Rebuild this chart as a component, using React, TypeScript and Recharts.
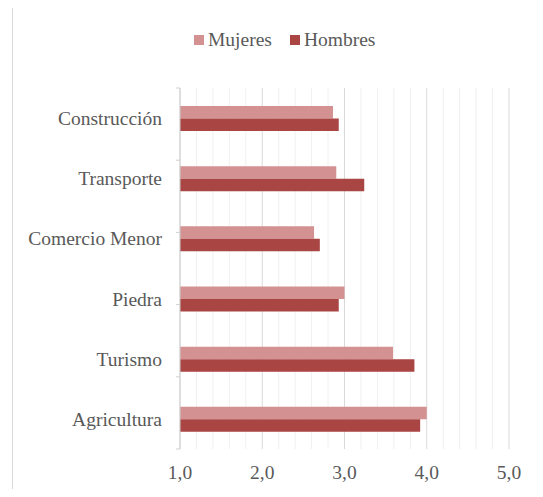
import React from "react";
import { BarChart, Bar, XAxis, YAxis, CartesianGrid, Legend } from "recharts";

const categories = ["Construcción", "Transporte", "Comercio Menor", "Piedra", "Turismo", "Agricultura"];
const mujeres = [2.86, 2.9, 2.63, 3.0, 3.59, 4.0];
const hombres = [2.93, 3.24, 2.7, 2.93, 3.85, 3.92];
const majorTicks = [1, 2, 3, 4, 5];
const minorTicks = [1.2, 1.4, 1.6, 1.8, 2.2, 2.4, 2.6, 2.8, 3.2, 3.4, 3.6, 3.8, 4.2, 4.4, 4.6, 4.8];
const bandTicks = [0, 1, 2, 3, 4, 5, 6];
const seriesNames = ["Mujeres", "Hombres"];
const seriesColors = ["#d39191", "#a94543"];

const data = categories.map((name, i) => ({ name, Mujeres: mujeres[i], Hombres: hombres[i] }));

const FONT = "'Liberation Serif', serif";
const FS = 19.5;
const TEXT = "#595959";

const LegendContent = () => (
  <div style={{ display: "flex", alignItems: "center", fontFamily: FONT, fontSize: FS, color: TEXT, lineHeight: "20px", height: 20 }}>
    {seriesNames.map((n, i) => (
      <div key={n} style={{ display: "flex", alignItems: "center", marginRight: 18 }}>
        <span style={{ display: "inline-block", width: 10, height: 10, background: seriesColors[i], marginRight: 4 }} />
        <span>{n}</span>
      </div>
    ))}
  </div>
);

export default function App() {
  return (
    <div style={{ margin: -8, width: 543, height: 497, position: "relative", overflow: "hidden", background: "#fff" }}>
      <div style={{ position: "absolute", left: 12, top: 5, width: 700, height: 700, border: "1px solid #d9d9d9", boxSizing: "border-box" }} />
      <div style={{ position: "absolute", left: 0, top: 0 }}>
        <BarChart
          width={543}
          height={497}
          data={data}
          layout="vertical"
          margin={{ top: 68, right: 34, bottom: 0, left: 10 }}
          barSize={12.5}
          barGap={0}
        >
          <CartesianGrid
            horizontal={false}
            stroke="#f0f0f0"
            verticalCoordinatesGenerator={(props: any) => {
              const s = props?.xAxis?.scale;
              if (typeof s === "function") return minorTicks.map((t) => s(t));
              const off = props.offset;
              return minorTicks.map((t) => off.left + ((t - 1) / 4) * off.width);
            }}
          />
          <CartesianGrid horizontal={false} stroke="#d9d9d9" />
          <XAxis
            type="number"
            domain={[1, 5]}
            ticks={majorTicks}
            tickFormatter={(v: number) => v.toFixed(1).replace(".", ",")}
            axisLine={false}
            tickLine={false}
            tickSize={0}
            tickMargin={16}
            height={48}
            interval={0}
            tick={{ fill: TEXT, fontFamily: FONT, fontSize: FS }}
          />
          <YAxis
            yAxisId="band"
            type="number"
            domain={[0, 6]}
            ticks={bandTicks}
            width={4}
            tickFormatter={() => ""}
            axisLine={{ stroke: "#d0d0d0" }}
            tickLine={{ stroke: "#d0d0d0" }}
            tickSize={4}
            interval={0}
          />
          <YAxis
            yAxisId="cat"
            type="category"
            dataKey="name"
            width={166}
            axisLine={false}
            tickLine={false}
            tickSize={0}
            tickMargin={14}
            interval={0}
            tick={{ fill: TEXT, fontFamily: FONT, fontSize: FS }}
          />
          <Legend
            verticalAlign="top"
            height={20}
            content={() => <LegendContent />}
            wrapperStyle={{ position: "absolute", top: 30, left: 194, width: "auto" }}
          />
          <Bar yAxisId="cat" dataKey="Mujeres" fill={seriesColors[0]} isAnimationActive={false} />
          <Bar yAxisId="cat" dataKey="Hombres" fill={seriesColors[1]} isAnimationActive={false} />
        </BarChart>
      </div>
    </div>
  );
}
